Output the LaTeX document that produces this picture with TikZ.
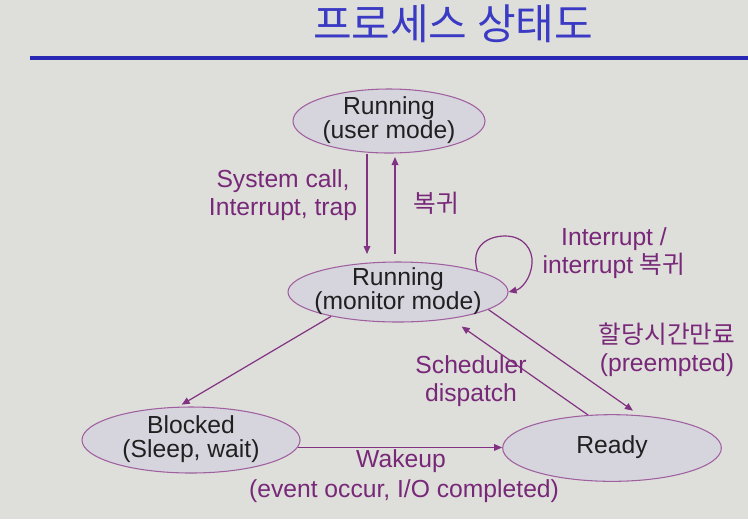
\documentclass[tikz,border=0pt]{standalone}
\usepackage{fontspec}
\setmainfont{Liberation Sans}
\newfontfamily\kr{Noto Sans CJK KR}
\usetikzlibrary{shapes.geometric,arrows.meta}
\definecolor{bgc}{RGB}{222,222,218}
\definecolor{titlec}{RGB}{58,58,196}
\definecolor{rulec}{RGB}{40,40,180}
\definecolor{ellfill}{RGB}{214,213,222}
\definecolor{ellborder}{RGB}{160,96,160}
\definecolor{nodetext}{RGB}{32,32,32}
\definecolor{lblc}{RGB}{120,40,120}
\definecolor{arrc}{RGB}{130,50,130}
\newcommand\stxt[1]{\makebox[0pt][c]{\begin{tabular}{@{}c@{}}#1\end{tabular}}}
\begin{document}
\begin{tikzpicture}[x=0.75pt,y=-0.75pt,
  state/.style={ellipse, draw=ellborder, fill=ellfill, line width=0.8pt, inner xsep=0pt, inner ysep=-8pt,
    text=nodetext, font=\fontsize{18.5}{17.5}\selectfont},
  lbl/.style={text=lblc, align=center, inner sep=0pt, font=\fontsize{18.5}{21}\selectfont},
  conn/.style={draw=arrc, line width=0.9pt, -{Triangle[length=6pt,width=5pt]}}]
\fill[bgc] (0,0) rectangle (748,519);
\useasboundingbox (0,0) rectangle (748,519);
% title
\node[text=titlec, inner sep=0pt, font=\kr\fontsize{31.5}{34}\selectfont] (title) at (453,24) {프로세스 상태도};
\draw[rulec, line width=3.5pt] (30,58) -- (748,58);
% states
\node[state, minimum width=144pt, minimum height=48pt] (user) at (389,121) {\stxt{Running\\(user mode)}};
\node[state, minimum width=165pt, minimum height=45pt] (monitor) at (398,292) {\stxt{Running\\(monitor mode)}};
\node[state, minimum width=163.5pt, minimum height=49.5pt] (blocked) at (191,440) {\stxt{Blocked\\(Sleep, wait)}};
\node[state, minimum width=164pt, minimum height=50pt] (ready) at (612,448) {\stxt{Ready}};
% vertical arrows
\coordinate (d2) at (367,254);
\coordinate (u1) at (395,254);
\coordinate (u2) at (395,157);
\draw[conn] (user.south -| d2) -- (d2);
\draw[conn] (u1) -- (u2);
% self loop
\draw[conn] (monitor.15) .. controls (470,246) and (488,236) .. (505,236)
  .. controls (524,236) and (533,250) .. (532,263)
  .. controls (531,279) and (521,289) .. (monitor.east);
% other connectors
\draw[conn, shorten >=3pt] (monitor.200) -- (blocked.111);
\draw[conn, shorten >=6pt] (monitor.-11) -- (ready.50);
\draw[conn, shorten >=10pt] (ready.126) -- (monitor.-27.5);
\draw[conn] (blocked.-4) -- (blocked.-4 -| ready.west);
% labels
\node[lbl] (l1) at (283,195) {System call,\\Interrupt, trap};
\node[lbl] (l2) at (436,203) {\kr 복귀};
\node[lbl] (l3) at (614,253) {Interrupt /\\interrupt {\kr 복귀}};
\node[lbl] (l4) at (667,350) {{\kr 할당시간만료}\\(preempted)};
\node[lbl] (l5) at (471,381) {Scheduler\\dispatch};
\node[lbl] (l6) at (401,461) {Wakeup};
\node[lbl] (l7) at (404,491) {(event occur, I/O completed)};
\end{tikzpicture}
\end{document}
